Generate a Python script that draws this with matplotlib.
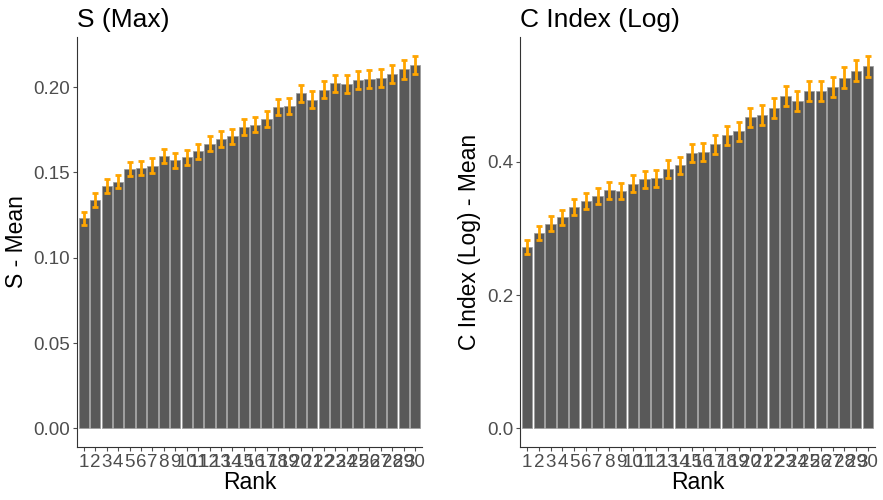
import matplotlib
matplotlib.use("Agg")
import matplotlib.pyplot as plt
import numpy as np

plt.rcParams['font.family'] = ['Liberation Sans', 'DejaVu Sans']

ranks = [str(i) for i in range(1, 31)]

s_mean = [0.1232, 0.1339, 0.1421, 0.1446, 0.1522, 0.1526, 0.1540, 0.1596, 0.1571, 0.1589,
          0.1624, 0.1669, 0.1696, 0.1712, 0.1764, 0.1780, 0.1813, 0.1881, 0.1889, 0.1963,
          0.1926, 0.1984, 0.2023, 0.2018, 0.2041, 0.2045, 0.2055, 0.2076, 0.2104, 0.2130]
s_err = [0.0038, 0.0039, 0.0040, 0.0040, 0.0041, 0.0041, 0.0042, 0.0042, 0.0043, 0.0043,
         0.0044, 0.0044, 0.0045, 0.0045, 0.0046, 0.0046, 0.0047, 0.0047, 0.0048, 0.0049,
         0.0049, 0.0050, 0.0050, 0.0051, 0.0051, 0.0052, 0.0052, 0.0053, 0.0054, 0.0054]

c_mean = [0.2717, 0.2931, 0.3071, 0.3171, 0.3321, 0.3411, 0.3481, 0.3570, 0.3561, 0.3670,
          0.3740, 0.3755, 0.3890, 0.3945, 0.4125, 0.4150, 0.4260, 0.4400, 0.4460, 0.4669,
          0.4704, 0.4809, 0.4989, 0.4909, 0.5059, 0.5059, 0.5124, 0.5263, 0.5363, 0.5433]
c_err = [0.0105, 0.0108, 0.0110, 0.0112, 0.0115, 0.0117, 0.0119, 0.0121, 0.0123, 0.0125,
         0.0127, 0.0129, 0.0131, 0.0133, 0.0135, 0.0137, 0.0139, 0.0141, 0.0143, 0.0145,
         0.0146, 0.0148, 0.0149, 0.0151, 0.0152, 0.0154, 0.0155, 0.0157, 0.0158, 0.0160]

W, H = 883, 500
fig = plt.figure(figsize=(W / 100, H / 100), dpi=100)

def make_ax(x0, x1, y0, y1):
    return fig.add_axes([x0 / W, 1 - y1 / H, (x1 - x0) / W, (y1 - y0) / H])

ax1 = make_ax(77, 422, 37, 447)
ax2 = make_ax(520, 875, 37, 447)

def panel(ax, means, errs, title, ylabel, yticks, yticklabels):
    x = np.arange(1, len(means) + 1)
    m = np.array(means)
    e = np.array(errs)
    ax.bar(x, m, width=0.9, color='#595959', edgecolor='#9a9a9a', linewidth=0.5, zorder=2)
    ax.errorbar(x, m, yerr=e, fmt='none', ecolor='#FFA500', elinewidth=2.0,
                capsize=2.0, capthick=2.0, zorder=3)
    top = (m + e).max()
    ax.set_ylim(-0.05 * top, 1.05 * top)
    ax.set_xlim(0.4, len(means) + 0.6)
    ax.set_xticks(x)
    ax.set_xticklabels(ranks)
    ax.set_yticks(yticks)
    ax.set_yticklabels(yticklabels)
    for s in ['top', 'right']:
        ax.spines[s].set_visible(False)
    for s in ['left', 'bottom']:
        ax.spines[s].set_color('#333333')
        ax.spines[s].set_linewidth(0.8)
    ax.tick_params(axis='both', colors='#4D4D4D', labelsize=13.5, length=3, width=0.8,
                   pad=2)
    ax.tick_params(axis='both', labelcolor='#4D4D4D')
    ax.set_title(title, loc='left', fontsize=19, color='black', pad=7)
    ax.set_xlabel('Rank', fontsize=16.5, color='black', labelpad=0)
    ax.set_ylabel(ylabel, fontsize=16.5, color='black', labelpad=4)

panel(ax1, s_mean, s_err, 'S (Max)', 'S - Mean',
      [0.0, 0.05, 0.10, 0.15, 0.20], ['0.00', '0.05', '0.10', '0.15', '0.20'])
panel(ax2, c_mean, c_err, 'C Index (Log)', 'C Index (Log) - Mean',
      [0.0, 0.2, 0.4], ['0.0', '0.2', '0.4'])

fig.savefig('out.png', dpi=100)
